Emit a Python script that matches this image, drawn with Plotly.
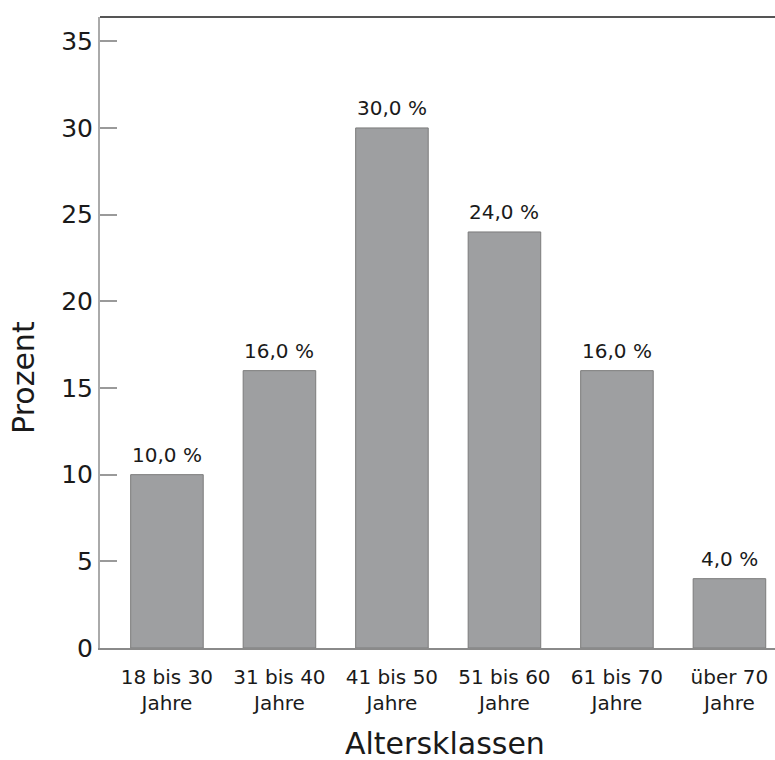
import plotly.graph_objects as go

# Altersverteilung der Befragten
categories = ["18 bis 30<br>Jahre", "31 bis 40<br>Jahre", "41 bis 50<br>Jahre",
              "51 bis 60<br>Jahre", "61 bis 70<br>Jahre", "über 70<br>Jahre"]
percent = [10.0, 16.0, 30.0, 24.0, 16.0, 4.0]
y_ticks = [0, 5, 10, 15, 20, 25, 30, 35]

FONT = "DejaVu Sans"
INK = "#1a1a1a"

xs = list(range(len(categories)))

fig = go.Figure(
    go.Bar(
        x=xs,
        y=percent,
        marker=dict(color="#9e9fa1", line=dict(color="#7c7c7c", width=1)),
        width=0.645,
        hoverinfo="skip",
    )
)

# value labels above the bars, German decimal comma
labels = [
    dict(x=x, y=v, xref="x", yref="y", text=f"{v:.1f} %".replace(".", ","),
         showarrow=False, yanchor="bottom", yshift=6,
         font=dict(family=FONT, size=20, color=INK))
    for x, v in zip(xs, percent)
]

titles = [
    dict(text="Altersklassen", xref="paper", yref="paper", x=0.511, y=0,
         yanchor="top", xanchor="center", yshift=-76, showarrow=False,
         font=dict(family=FONT, size=30, color=INK)),
    dict(text="Prozent", xref="paper", yref="paper", x=0, y=0.428, textangle=-90,
         xanchor="center", yanchor="middle", xshift=-76, showarrow=False,
         font=dict(family=FONT, size=30, color=INK)),
]

fig.update_layout(
    width=775,
    height=760,
    margin=dict(l=100, r=0, t=17, b=112),
    plot_bgcolor="white",
    paper_bgcolor="white",
    showlegend=False,
    font=dict(family=FONT, color=INK),
    xaxis=dict(
        range=[-0.595, 5.405],
        tickmode="array",
        tickvals=xs,
        ticktext=categories,
        ticks="",
        showgrid=False,
        zeroline=False,
        showline=True,
        linecolor="#8a8a8a",
        linewidth=1.5,
        tickfont=dict(family=FONT, size=20, color=INK),
        ticklabelstandoff=10,
    ),
    yaxis=dict(
        range=[0, 36.4],
        tickmode="array",
        tickvals=y_ticks,
        ticks="inside",
        ticklen=17,
        tickwidth=1.5,
        tickcolor="#9a9a9a",
        showgrid=False,
        zeroline=False,
        showline=True,
        linecolor="#aaaaaa",
        linewidth=2,
        tickfont=dict(family=FONT, size=25, color=INK),
        ticklabelstandoff=0,
    ),
    annotations=labels + titles,
    shapes=[
        dict(type="line", xref="paper", yref="paper", x0=0, x1=1, y0=1, y1=1,
             line=dict(color="#555555", width=2)),
    ],
)

fig.write_html("out.html")
